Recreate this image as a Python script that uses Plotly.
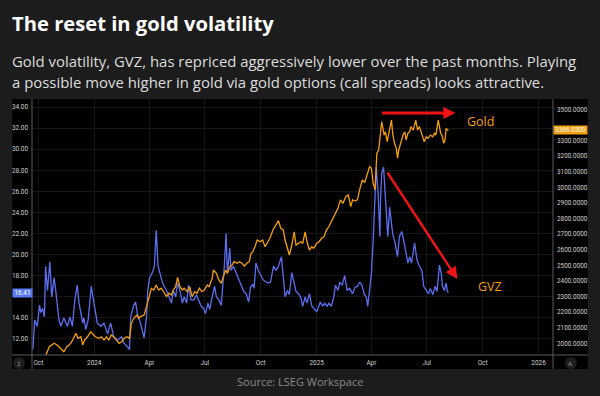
import plotly.graph_objects as go

# ---------------- data ----------------
gvz_dates = [
    "2023-09-22", "2023-09-25", "2023-09-29", "2023-10-03", "2023-10-05", "2023-10-08",
    "2023-10-11", "2023-10-13", "2023-10-16", "2023-10-20", "2023-10-23", "2023-10-27",
    "2023-10-30", "2023-11-04", "2023-11-07", "2023-11-12", "2023-11-18", "2023-11-22",
    "2023-11-26", "2023-11-30", "2023-12-04", "2023-12-07", "2023-12-13", "2023-12-15",
    "2023-12-18", "2023-12-22", "2023-12-27", "2024-01-01", "2024-01-06", "2024-01-12",
    "2024-01-17", "2024-01-23", "2024-01-28", "2024-02-02", "2024-02-08", "2024-02-15",
    "2024-02-19", "2024-02-24", "2024-02-28", "2024-03-01", "2024-03-06", "2024-03-09",
    "2024-03-12", "2024-03-17", "2024-03-23", "2024-03-27", "2024-03-29", "2024-04-01",
    "2024-04-05", "2024-04-09", "2024-04-12", "2024-04-15", "2024-04-18", "2024-04-21",
    "2024-04-24", "2024-04-29", "2024-05-03", "2024-05-07", "2024-05-10", "2024-05-14",
    "2024-05-17", "2024-05-21", "2024-05-25", "2024-05-28", "2024-06-01", "2024-06-04",
    "2024-06-08", "2024-06-13", "2024-06-17", "2024-06-21", "2024-06-25", "2024-06-29",
    "2024-07-02", "2024-07-06", "2024-07-09", "2024-07-13", "2024-07-17", "2024-07-20",
    "2024-07-24", "2024-07-28", "2024-07-31", "2024-08-02", "2024-08-05", "2024-08-07",
    "2024-08-11", "2024-08-13", "2024-08-17", "2024-08-22", "2024-08-25", "2024-08-29",
    "2024-09-03", "2024-09-07", "2024-09-11", "2024-09-14", "2024-09-18", "2024-09-20",
    "2024-09-23", "2024-09-27", "2024-10-01", "2024-10-05", "2024-10-10", "2024-10-14",
    "2024-10-17", "2024-10-22", "2024-10-26", "2024-10-30", "2024-11-04", "2024-11-07",
    "2024-11-10", "2024-11-14", "2024-11-17", "2024-11-21", "2024-11-23", "2024-11-28",
    "2024-12-02", "2024-12-06", "2024-12-09", "2024-12-13", "2024-12-16", "2024-12-20",
    "2024-12-24", "2024-12-27", "2025-01-01", "2025-01-03", "2025-01-07", "2025-01-11",
    "2025-01-14", "2025-01-18", "2025-01-21", "2025-01-25", "2025-01-29", "2025-02-01",
    "2025-02-05", "2025-02-08", "2025-02-12", "2025-02-16", "2025-02-20", "2025-02-24",
    "2025-03-01", "2025-03-05", "2025-03-09", "2025-03-13", "2025-03-17", "2025-03-20",
    "2025-03-24", "2025-03-26", "2025-03-29", "2025-04-01", "2025-04-04", "2025-04-06",
    "2025-04-09", "2025-04-12", "2025-04-15", "2025-04-16", "2025-04-18", "2025-04-21",
    "2025-04-23", "2025-04-26", "2025-04-28", "2025-05-01", "2025-05-04", "2025-05-06",
    "2025-05-10", "2025-05-14", "2025-05-17", "2025-05-21", "2025-05-24", "2025-05-28",
    "2025-05-31", "2025-06-03", "2025-06-06", "2025-06-11", "2025-06-15", "2025-06-19",
    "2025-06-23", "2025-06-26", "2025-06-30", "2025-07-04", "2025-07-07", "2025-07-11",
    "2025-07-15", "2025-07-18", "2025-07-22", "2025-07-25", "2025-07-27", "2025-07-30",
    "2025-08-02", "2025-08-04", "2025-08-06",
]
gvz_values = [
    11.0, 13.8, 13.2, 15.2, 14.5, 14.9,
    14.1, 18.9, 16.6, 19.3, 16.0, 17.8,
    16.4, 13.8, 13.2, 14.0, 13.2, 14.1,
    13.2, 15.7, 17.1, 15.4, 13.5, 14.0,
    12.9, 13.8, 17.0, 15.4, 13.5, 13.2,
    13.5, 12.5, 13.5, 12.2, 11.9, 12.2,
    11.6, 11.3, 11.0, 14.1, 15.2, 15.5,
    14.4, 13.5, 12.1, 14.1, 16.6, 17.8,
    18.2, 18.9, 22.3, 18.9, 18.2, 17.6,
    17.1, 16.6, 16.0, 15.4, 16.6, 16.0,
    17.3, 16.6, 15.4, 16.0, 15.4, 17.1,
    15.7, 15.7, 16.2, 15.7, 15.1, 14.9,
    14.4, 15.4, 14.8, 16.0, 17.0, 16.0,
    15.7, 15.2, 17.3, 18.9, 22.0, 18.2,
    20.6, 18.5, 18.9, 18.2, 17.9, 17.3,
    16.5, 16.3, 15.5, 16.9, 17.2, 16.8,
    19.2, 18.5, 18.1, 17.6, 17.4, 17.3,
    17.4, 18.9, 18.5, 18.9, 19.8, 17.9,
    16.0, 16.6, 16.2, 18.3, 17.8, 16.5,
    16.3, 15.9, 15.1, 16.0, 15.4, 16.3,
    15.1, 14.9, 14.6, 14.9, 15.5, 15.1,
    15.4, 15.1, 15.4, 15.1, 16.0, 17.1,
    16.6, 17.4, 17.1, 18.0, 16.6, 16.8,
    16.3, 16.9, 17.0, 17.4, 17.0, 16.3,
    15.9, 15.1, 17.0, 18.2, 21.4, 24.5,
    28.3, 25.8, 21.7, 25.2, 27.7, 28.3,
    26.4, 23.9, 21.7, 24.5, 22.6, 22.0,
    21.1, 19.8, 21.7, 22.2, 21.4, 20.1,
    19.2, 19.8, 19.2, 21.1, 19.5, 18.9,
    18.5, 17.0, 16.6, 16.3, 16.8, 16.2,
    17.0, 16.5, 19.0, 18.2, 17.0, 16.6,
    17.3, 16.5, 16.41,
]

gold_dates = [
    "2023-10-13", "2023-10-19", "2023-10-23", "2023-10-27", "2023-11-01", "2023-11-04",
    "2023-11-08", "2023-11-12", "2023-11-17", "2023-11-21", "2023-11-25", "2023-11-29",
    "2023-12-02", "2023-12-05", "2023-12-10", "2023-12-13", "2023-12-16", "2023-12-21",
    "2023-12-26", "2023-12-31", "2024-01-03", "2024-01-09", "2024-01-13", "2024-01-17",
    "2024-01-21", "2024-01-25", "2024-01-29", "2024-02-02", "2024-02-07", "2024-02-11",
    "2024-02-15", "2024-02-19", "2024-02-24", "2024-02-28", "2024-03-02", "2024-03-06",
    "2024-03-11", "2024-03-14", "2024-03-17", "2024-03-20", "2024-03-23", "2024-03-27",
    "2024-03-31", "2024-04-04", "2024-04-08", "2024-04-12", "2024-04-16", "2024-04-20",
    "2024-04-24", "2024-04-29", "2024-05-03", "2024-05-07", "2024-05-10", "2024-05-14",
    "2024-05-17", "2024-05-21", "2024-05-25", "2024-05-28", "2024-06-02", "2024-06-06",
    "2024-06-10", "2024-06-14", "2024-06-18", "2024-06-22", "2024-06-26", "2024-06-30",
    "2024-07-05", "2024-07-08", "2024-07-13", "2024-07-15", "2024-07-20", "2024-07-24",
    "2024-07-28", "2024-07-31", "2024-08-04", "2024-08-07", "2024-08-11", "2024-08-15",
    "2024-08-18", "2024-08-23", "2024-08-27", "2024-08-31", "2024-09-04", "2024-09-08",
    "2024-09-12", "2024-09-15", "2024-09-18", "2024-09-22", "2024-09-25", "2024-09-30",
    "2024-10-04", "2024-10-08", "2024-10-12", "2024-10-16", "2024-10-21", "2024-10-24",
    "2024-10-30", "2024-11-03", "2024-11-07", "2024-11-10", "2024-11-14", "2024-11-17",
    "2024-11-21", "2024-11-25", "2024-11-28", "2024-12-02", "2024-12-06", "2024-12-09",
    "2024-12-13", "2024-12-16", "2024-12-20", "2024-12-24", "2024-12-27", "2025-01-01",
    "2025-01-05", "2025-01-09", "2025-01-13", "2025-01-17", "2025-01-21", "2025-01-25",
    "2025-01-29", "2025-02-01", "2025-02-05", "2025-02-09", "2025-02-13", "2025-02-18",
    "2025-02-22", "2025-02-26", "2025-03-01", "2025-03-05", "2025-03-09", "2025-03-13",
    "2025-03-17", "2025-03-21", "2025-03-25", "2025-03-29", "2025-04-01", "2025-04-04",
    "2025-04-07", "2025-04-08", "2025-04-10", "2025-04-13", "2025-04-16", "2025-04-18",
    "2025-04-22", "2025-04-24", "2025-04-27", "2025-04-30", "2025-05-04", "2025-05-06",
    "2025-05-09", "2025-05-12", "2025-05-14", "2025-05-16", "2025-05-20", "2025-05-23",
    "2025-05-26", "2025-05-28", "2025-05-31", "2025-06-03", "2025-06-05", "2025-06-09",
    "2025-06-13", "2025-06-16", "2025-06-19", "2025-06-22", "2025-06-25", "2025-06-27",
    "2025-06-30", "2025-07-03", "2025-07-07", "2025-07-11", "2025-07-14", "2025-07-16",
    "2025-07-20", "2025-07-24", "2025-07-26", "2025-07-29", "2025-07-31", "2025-08-02",
    "2025-08-04", "2025-08-06",
]
gold_values = [
    1920, 1978, 1989, 2000, 1989, 1978,
    1957, 1946, 1978, 1989, 2010, 2042,
    2064, 2032, 2042, 1989, 2021, 2042,
    2074, 2053, 2042, 2032, 2042, 2021,
    2042, 2021, 2053, 2042, 2021, 2000,
    2010, 2032, 2042, 2032, 2128, 2160,
    2181, 2160, 2171, 2175, 2181, 2235,
    2299, 2353, 2342, 2374, 2342, 2353,
    2331, 2299, 2321, 2310, 2342, 2363,
    2423, 2363, 2342, 2353, 2331, 2363,
    2299, 2331, 2321, 2353, 2331, 2342,
    2374, 2363, 2417, 2470, 2449, 2406,
    2385, 2427, 2470, 2449, 2491, 2502,
    2523, 2513, 2523, 2513, 2496, 2513,
    2523, 2577, 2587, 2625, 2662, 2651,
    2662, 2619, 2651, 2673, 2726, 2747,
    2786, 2737, 2726, 2662, 2598, 2566,
    2630, 2715, 2630, 2641, 2651, 2641,
    2715, 2651, 2598, 2619, 2609, 2641,
    2651, 2673, 2683, 2726, 2747, 2779,
    2811, 2844, 2865, 2919, 2897, 2940,
    2951, 2876, 2919, 2913, 2920, 2990,
    3047, 3030, 3090, 3132, 3122, 3026,
    2983, 3068, 3218, 3239, 3346, 3420,
    3335, 3356, 3292, 3346, 3431, 3346,
    3282, 3250, 3186, 3239, 3303, 3335,
    3356, 3303, 3346, 3356, 3389, 3367,
    3431, 3367, 3389, 3346, 3314, 3292,
    3324, 3314, 3335, 3324, 3346, 3335,
    3431, 3346, 3335, 3282, 3303, 3378,
    3367, 3366.05,
]

tick_dates = ["2023-10-01", "2024-01-01", "2024-04-01", "2024-07-01", "2024-10-01",
              "2025-01-01", "2025-04-01", "2025-07-01", "2025-10-01", "2026-01-01"]
tick_labels = ["Oct", "2024", "Apr", "Jul", "Oct", "2025", "Apr", "Jul", "Oct", "2026"]
gvz_ticks = [12, 14, 16, 18, 20, 22, 24, 26, 28, 30, 32, 34]
gvz_tick_labels = ["12.00", "14.00", "", "18.00", "20.00", "22.00", "24.00", "26.00",
                   "28.00", "30.00", "32.00", "34.00"]   # 16.00 sits under the last-value tag
gold_ticks = [2000, 2100, 2200, 2300, 2400, 2500, 2600, 2700, 2800, 2900,
              3000, 3100, 3200, 3300, 3400, 3500]
gold_tick_labels = ["2000.0000", "2100.0000", "2200.0000", "2300.0000", "2400.0000",
                    "2500.0000", "2600.0000", "2700.0000", "2800.0000", "2900.0000",
                    "3000.0000", "3100.0000", "3200.0000", "3300.0000", "",
                    "3500.0000"]   # 3400 sits under the last-value tag
gvz_last = "16.41"
gold_last = "3366.0500"

title_text = "The reset in gold volatility"
subtitle_1 = "Gold volatility, GVZ, has repriced aggressively lower over the past months. Playing"
subtitle_2 = "a possible move higher in gold via gold options (call spreads) looks attractive."
source_text = "Source: LSEG Workspace"

# ---------------- layout geometry (pixels) ----------------
W, H = 600, 396
PL, PR, PT, PB = 31, 554, 99, 355   # plot area


def px(x):
    return (x - PL) / (PR - PL)


def py(y):
    return (PB - y) / (PB - PT)


BLUE = "#5b6ff2"
ORANGE = "#f59e0b"
RED = "#f01414"
BG = "#1c1c1c"
TICK = "#d2d2d2"
GRID = "#161616"
AXLINE = "#5a5a5a"
TICKFONT = dict(family="Roboto", size=6.4, color=TICK)

fig = go.Figure()
fig.add_trace(go.Scatter(x=gvz_dates, y=gvz_values, mode="lines", name="GVZ",
                         line=dict(color=BLUE, width=1.3), yaxis="y"))
fig.add_trace(go.Scatter(x=gold_dates, y=gold_values, mode="lines", name="Gold",
                         line=dict(color=ORANGE, width=1.3), yaxis="y2"))

shapes = []
# black chart panel
shapes.append(dict(type="rect", xref="paper", yref="paper", x0=px(11), x1=px(589),
                   y0=py(369), y1=py(99), fillcolor="#000000", line=dict(width=0),
                   layer="below"))
# axis lines
shapes.append(dict(type="line", xref="paper", yref="paper", x0=px(11), x1=px(589),
                   y0=py(355), y1=py(355), line=dict(color=AXLINE, width=1), layer="above"))
shapes.append(dict(type="line", xref="paper", yref="paper", x0=px(31), x1=px(31),
                   y0=py(99), y1=py(369), line=dict(color=AXLINE, width=1), layer="above"))
shapes.append(dict(type="line", xref="paper", yref="paper", x0=px(554), x1=px(554),
                   y0=py(99), y1=py(369), line=dict(color=AXLINE, width=1), layer="above"))
# small round buttons in the corners of the axis strip
for cx in (18, 572):
    shapes.append(dict(type="circle", xref="paper", yref="paper",
                       x0=px(cx - 6), x1=px(cx + 6), y0=py(369), y1=py(357),
                       fillcolor="#1e1e1e", line=dict(width=0), layer="above"))

annotations = [
    dict(text="<b>" + title_text + "</b>", xref="paper", yref="paper",
         x=px(9), y=py(23), xanchor="left", yanchor="middle", showarrow=False,
         font=dict(family="Open Sans", size=20.2, color="#ffffff")),
    dict(text=subtitle_1, xref="paper", yref="paper",
         x=px(9), y=py(61), xanchor="left", yanchor="middle", showarrow=False,
         font=dict(family="Open Sans", size=14.9, color="#dcdcdc")),
    dict(text=subtitle_2, xref="paper", yref="paper",
         x=px(9), y=py(82), xanchor="left", yanchor="middle", showarrow=False,
         font=dict(family="Open Sans", size=14.9, color="#dcdcdc")),
    dict(text=source_text, xref="paper", yref="paper",
         x=px(300), y=py(381), xanchor="center", yanchor="middle", showarrow=False,
         font=dict(family="Open Sans", size=11, color="#8a8a8a")),
    # series labels
    dict(text="Gold", xref="paper", yref="paper", x=px(481), y=py(121),
         xanchor="center", yanchor="middle", showarrow=False,
         font=dict(family="Open Sans", size=12.5, color=ORANGE)),
    dict(text="GVZ", xref="paper", yref="paper", x=px(491), y=py(286),
         xanchor="center", yanchor="middle", showarrow=False,
         font=dict(family="Open Sans", size=12.5, color=ORANGE)),
    # red arrows
    dict(text="", xref="paper", yref="paper", x=px(456), y=py(113),
         ax=-75, ay=0, showarrow=True, arrowhead=2, arrowwidth=3, arrowsize=0.8,
         arrowcolor=RED, standoff=0),
    dict(text="", xref="paper", yref="paper", x=px(458), y=py(279),
         ax=-71, ay=-108, showarrow=True, arrowhead=2, arrowwidth=2.4, arrowsize=1.0,
         arrowcolor=RED, standoff=0),
    # last-value tags
    dict(text=gvz_last, xref="paper", yref="paper", x=px(21), y=py(292.5),
         xanchor="center", yanchor="middle", showarrow=False, bgcolor="#5b7cf6",
         width=19, height=8, borderpad=0,
         font=dict(family="Roboto", size=6.4, color="#ffffff")),
    dict(text=gold_last, xref="paper", yref="paper", x=px(571.5), y=py(130),
         xanchor="center", yanchor="middle", showarrow=False, bgcolor="#f5a00f",
         width=33, height=8, borderpad=0,
         font=dict(family="Roboto", size=6.4, color="#ffffff")),
    # button glyphs
    dict(text="Σ", xref="paper", yref="paper", x=px(18), y=py(363),
         xanchor="center", yanchor="middle", showarrow=False,
         font=dict(family="DejaVu Sans", size=6, color="#8a8a8a")),
    dict(text="A", xref="paper", yref="paper", x=px(572), y=py(363),
         xanchor="center", yanchor="middle", showarrow=False,
         font=dict(family="DejaVu Sans", size=6, color="#8a8a8a")),
]

fig.update_layout(
    width=W, height=H,
    margin=dict(l=PL, r=W - PR, t=PT, b=H - PB, pad=0),
    paper_bgcolor=BG, plot_bgcolor="rgba(0,0,0,0)",
    showlegend=False,
    xaxis=dict(type="date", range=["2023-09-20 14:00", "2026-01-24 19:00"],
               tickmode="array", tickvals=tick_dates, ticktext=tick_labels,
               showgrid=True, gridcolor=GRID, gridwidth=1, zeroline=False,
               showline=False, ticks="", ticklabelstandoff=3, tickfont=TICKFONT),
    yaxis=dict(range=[10.48, 34.76], tickmode="array", tickvals=gvz_ticks,
               ticktext=gvz_tick_labels, showgrid=True, gridcolor=GRID, zeroline=False,
               showline=False, ticks="", ticklabelstandoff=3, tickfont=TICKFONT),
    yaxis2=dict(range=[1925, 3566], overlaying="y", side="right", tickmode="array",
                tickvals=gold_ticks, ticktext=gold_tick_labels, showgrid=False,
                zeroline=False, showline=False, ticks="", ticklabelstandoff=3,
                tickfont=TICKFONT),
    shapes=shapes,
    annotations=annotations,
)

fig.write_html(
    "out.html",
    config={"displayModeBar": False},
    post_script=("document.body.style.margin='0';"
                 "document.body.style.overflow='hidden';"
                 "document.body.style.background='" + BG + "';"),
)
